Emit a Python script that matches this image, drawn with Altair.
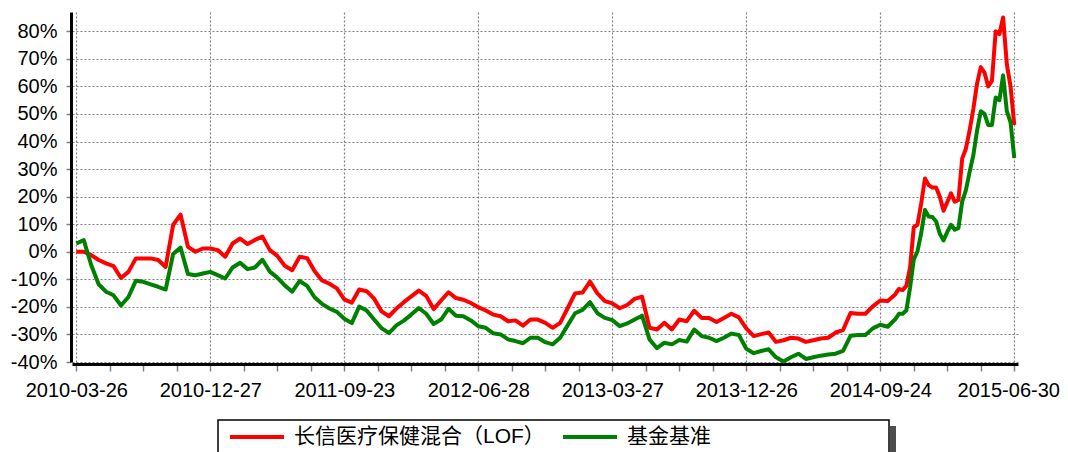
import altair as alt
import pandas as pd

# trading-day index of each reading (finer sampling over the last, volatile stretch)
days = list(range(0, 1100, 10)) + list(range(1100, 1261, 5))

fund = [
    0, 0, -1.2, -3, -4.2, -5.2, -9.5, -7.3, -2.4, -2.4,
    -2.4, -3, -5.5, 9.7, 13.5, 1.8, 0, 1.2, 1.2, 0.6,
    -1.8, 3, 4.8, 2.8, 4.3, 5.5, 0.6, -1.5, -5.1, -6.7,
    -1.8, -2.3, -7, -10.4, -11.6, -13.3, -17.3, -18.5, -13.7, -14.3,
    -17, -21.6, -23.4, -20.6, -18.3, -16.2, -14.1, -16, -20.8, -17.7,
    -14.7, -16.8, -17.4, -18.6, -20.1, -21.3, -22.8, -23.4, -25.2, -24.9,
    -26.8, -24.6, -24.6, -25.8, -27.6, -25.8, -20.5, -15.1, -14.8, -10.8,
    -15.1, -17.9, -18.7, -20.5, -19.3, -17.1, -16.3, -27.6, -28.2, -25.8,
    -28.2, -24.6, -25.2, -21.4, -24, -24, -25.5, -24, -22.5, -23.8,
    -27.8, -30.6, -29.9, -29.3, -32.7, -32.1, -31.2, -31.5, -32.7, -32.1,
    -31.5, -31.2, -29.3, -28.4, -22.2, -22.5, -22.5, -19.8, -17.7, -17.9,
    -15.5, -13.5, -13.9, -12.4, -5.8, 8.9, 9.8, 17.6, 26.6, 24.2,
    23.3, 23.3, 20, 14.9, 18, 21.2, 18.2, 18.8, 33.8, 37.4,
    44, 51.8, 61, 67, 65, 60, 62, 80, 79, 85,
    68, 60, 46,
]

bench = [
    3, 4.2, -4.8, -11.8, -14.5, -15.8, -19.5, -16.4, -10.5, -10.9,
    -11.8, -12.7, -13.7, -0.8, 1.5, -8.1, -8.5, -7.9, -7.3, -8.5,
    -9.7, -5.7, -4, -6.3, -5.7, -2.9, -7.2, -9.4, -12.2, -14.5,
    -10.6, -12.4, -16.5, -18.9, -20.6, -21.8, -24.3, -25.9, -19.9, -21.3,
    -24.6, -27.7, -29.5, -26.7, -25, -22.8, -20.4, -22.5, -26.2, -24.6,
    -20.7, -23.2, -23.4, -24.9, -27, -27.6, -29.6, -30, -31.8, -32.4,
    -33.2, -31.2, -31.2, -32.8, -33.6, -31.2, -26.7, -22.3, -21.1, -18.3,
    -22.3, -24, -24.8, -27, -26, -24.6, -23.2, -31.8, -35, -33,
    -33.6, -32, -32.6, -28.2, -30.6, -31.2, -32.4, -31.2, -29.7, -30.2,
    -35.2, -36.8, -36, -35.4, -38.3, -39.8, -38.3, -37, -38.9, -38.3,
    -37.7, -37.3, -37, -36, -30.5, -30.2, -30.2, -27.8, -26.5, -27.2,
    -24.5, -22.5, -22.5, -21.3, -13, -2.8, 0.2, 6.8, 15.2, 12.8,
    12.6, 11, 6.5, 4.1, 7.2, 9.8, 8, 8.6, 18.2, 22.4,
    29, 35, 44, 51, 50, 46, 46, 56, 55, 64,
    51, 47, 34,
]

tick_labels = ["2010-03-26", "2010-12-27", "2011-09-23", "2012-06-28",
               "2013-03-27", "2013-12-26", "2014-09-24", "2015-06-30"]
major_step = 180
minor_step = 45
last_day = 1260
y_ticks = [-40, -30, -20, -10, 0, 10, 20, 30, 40, 50, 60, 70, 80]

names = ["长信医疗保健混合（LOF）", "基金基准"]
colors = ["#FF0000", "#008000"]

n = len(days)
df = pd.DataFrame({
    "day": days + days,
    "value": fund + bench,
    "series": [names[0]] * n + [names[1]] * n,
})

x_values = list(range(0, last_day + 1, minor_step))
label_expr = " : ".join(
    f"datum.value == {i * major_step} ? '{lab}'" for i, lab in enumerate(tick_labels)
) + " : ''"

FONT = "Liberation Sans, Arial, sans-serif"

lines = alt.Chart(df).mark_line(strokeWidth=4, strokeJoin="round").encode(
    x=alt.X("day:Q",
            scale=alt.Scale(domain=[-5.8, 1265], nice=False, zero=False),
            axis=alt.Axis(values=x_values, labelExpr=label_expr, labelOverlap=False,
                          title=None, grid=True,
                          gridOpacity={"condition": {"test": f"datum.value % {major_step} === 0", "value": 1}, "value": 0},
                          gridDash=[2, 2], gridColor="#808080", gridWidth=1.2,
                          tickColor="#808080", tickSize=7, tickWidth=1.5,
                          domainColor="#000000", domainWidth=3, offset=2,
                          labelFont=FONT, labelFontSize=20, labelColor="#000000",
                          labelOffset={"condition": {"test": f"datum.value == {last_day}", "value": -6}, "value": 0},
                          labelPadding=9)),
    y=alt.Y("value:Q",
            scale=alt.Scale(domain=[-40, 87], nice=False, zero=False),
            axis=alt.Axis(values=y_ticks, labelExpr="datum.value + '%'", title=None,
                          grid=True, gridDash=[2, 2], gridColor="#808080", gridWidth=1.2,
                          tickColor="#808080", tickSize=5, tickWidth=1.5,
                          domainColor="#000000", domainWidth=3, offset=1,
                          labelFont=FONT, labelFontSize=20, labelColor="#000000",
                          labelPadding=9, labelOverlap=False)),
    color=alt.Color("series:N",
                    scale=alt.Scale(domain=names, range=colors),
                    sort=names,
                    legend=alt.Legend(orient="none", legendX=156, legendY=396,
                                      direction="horizontal", columns=2, title=None,
                                      symbolType="stroke", symbolSize=2916,
                                      symbolStrokeWidth=4, labelFont="Liberation Sans, Noto Sans CJK SC",
                                      labelFontSize=21, labelColor="#000000",
                                      labelOffset=8, columnPadding=10, padding=0,
                                      labelLimit=400)),
)

one = pd.DataFrame({"k": [0]})
shadow = alt.Chart(one).mark_rect(fill="#4d4d4d").encode(
    x=alt.value(818), x2=alt.value(824), y=alt.value(414), y2=alt.value(450))
box = alt.Chart(one).mark_rect(fill="#ffffff", stroke="#000000", strokeWidth=1.5).encode(
    x=alt.value(146), x2=alt.value(817), y=alt.value(408), y2=alt.value(450))

chart = alt.layer(shadow, box, lines).properties(
    width=946, height=350,
    autosize=alt.AutoSizeParams(type="none"),
    padding={"left": 64, "top": 4, "right": 42, "bottom": 90},
    background="#ffffff",
).configure_view(stroke=None)

chart.save("out.html", embed_options={"renderer": "svg", "actions": False})
